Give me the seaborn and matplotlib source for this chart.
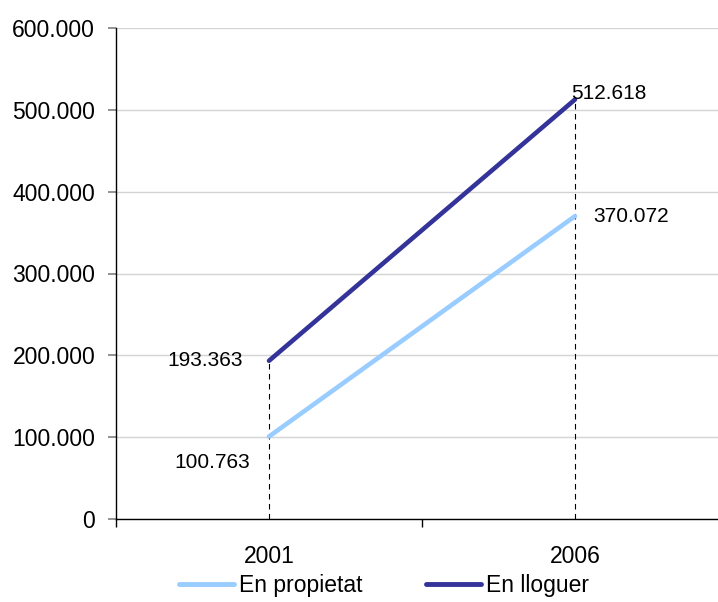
import matplotlib
matplotlib.use("Agg")
import matplotlib.pyplot as plt
import seaborn as sns
import pandas as pd
from matplotlib.ticker import FuncFormatter, FixedLocator

years = ["2001", "2006"]
propietat = [100763, 370072]
lloguer = [193363, 512618]
series_names = ["En propietat", "En lloguer"]
colors = ["#99CCFF", "#333399"]

df = pd.DataFrame({
    "year": years * 2,
    "value": propietat + lloguer,
    "serie": [series_names[0]] * 2 + [series_names[1]] * 2,
})

sns.set_theme(style="white")
plt.rcParams["font.family"] = ["Liberation Sans", "DejaVu Sans"]
plt.rcParams["text.color"] = "black"

fig = plt.figure(figsize=(7.18, 6.02), dpi=100)
ax = fig.add_axes([116 / 718, 83 / 602, 1 - 116 / 718, 491 / 602])

# drop lines
tops = [max(a, b) for a, b in zip(propietat, lloguer)]
ax.vlines(range(len(years)), 0, tops, colors="black", linestyles=(0, (5, 4)), lw=0.8, zorder=2)

sns.lineplot(data=df, x="year", y="value", hue="serie", palette=colors,
             hue_order=series_names, lw=3.3, ax=ax, zorder=3, legend=True)

ax.yaxis.set_major_locator(FixedLocator(range(0, 600001, 100000)))
ax.yaxis.set_major_formatter(FuncFormatter(lambda v, p: f"{int(v):,}".replace(",", ".")))
ax.set_xticks(range(len(years)))
ax.set_xticklabels(years)
ax.set_xticks([-0.5, 0.5, 1.5], minor=True)
ax.set_ylim(0, 600000)
ax.set_xlim(-0.5, -0.5 + (718 - 116) / 306)
ax.tick_params(axis="x", which="major", length=0, labelsize=16.5, pad=19, colors="black")
ax.tick_params(axis="x", which="minor", length=6, width=1, color="black", direction="out", bottom=True)
ax.tick_params(axis="y", which="major", length=6, width=1.2, color="#808080", direction="out",
               labelsize=16.5, pad=9, left=True, labelcolor="black")
ax.grid(axis="y", color="#d4d4d4", lw=1)
ax.grid(axis="x", visible=False)
ax.set_axisbelow(True)
ax.set_xlabel("")
ax.set_ylabel("")
for s in ["top", "right"]:
    ax.spines[s].set_visible(False)
for s in ["left", "bottom"]:
    ax.spines[s].set_color("black")
    ax.spines[s].set_linewidth(1)

def fmt(v):
    return f"{v:,}".replace(",", ".")

fs = 15
ax.annotate(fmt(lloguer[0]), (0, lloguer[0]), xytext=(-26, 0), textcoords="offset pixels",
            ha="right", va="center", fontsize=fs, color="black")
ax.annotate(fmt(propietat[0]), (0, propietat[0]), xytext=(-19, -26), textcoords="offset pixels",
            ha="right", va="center", fontsize=fs, color="black")
ax.annotate(fmt(lloguer[1]), (1, lloguer[1]), xytext=(-4, 6), textcoords="offset pixels",
            ha="left", va="center", fontsize=fs, color="black")
ax.annotate(fmt(propietat[1]), (1, propietat[1]), xytext=(18, 0), textcoords="offset pixels",
            ha="left", va="center", fontsize=fs, color="black")

handles, labels = ax.get_legend_handles_labels()
ax.legend_.remove()
for h in handles:
    h.set_solid_capstyle("round")
    h.set_linewidth(3.5)
leg = fig.legend(handles, labels, loc="center", bbox_to_anchor=(0.535, 0.027), ncol=2, frameon=False,
                 fontsize=16.5, handlelength=2.4, handletextpad=0.2, columnspacing=2.8)
for t in leg.get_texts():
    t.set_color("black")

fig.savefig("out.png", dpi=100)
